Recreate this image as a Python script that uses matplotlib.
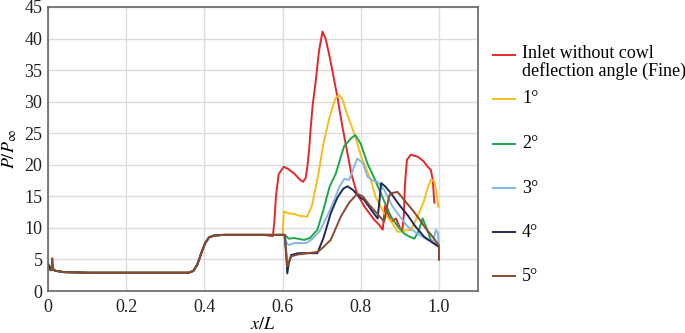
import matplotlib
matplotlib.use('Agg')
import matplotlib.pyplot as plt
from matplotlib.lines import Line2D

plt.rcParams['font.family'] = ['Liberation Serif', 'DejaVu Serif']
plt.rcParams['mathtext.fontset'] = 'stix'

# common first part (0 .. 0.6)
front_x = [0.0, 0.006, 0.02, 0.04, 0.1, 0.2, 0.3, 0.36, 0.372, 0.382,
           0.392, 0.402, 0.412, 0.425, 0.45, 0.5, 0.55]
front_y = [4.3, 3.6, 3.2, 3.0, 2.9, 2.9, 2.9, 2.9, 3.2, 4.2,
           6.0, 7.6, 8.5, 8.8, 8.9, 8.9, 8.9]

# red: inlet without cowl deflection
red_x = front_x + [0.575, 0.579, 0.583, 0.59, 0.603, 0.615, 0.63, 0.645, 0.652, 0.659,
                   0.664, 0.668, 0.672, 0.677, 0.685, 0.693, 0.702, 0.71, 0.719, 0.727,
                   0.74, 0.753, 0.766, 0.776, 0.79, 0.809, 0.834, 0.847, 0.856, 0.862,
                   0.868, 0.878, 0.89, 0.9, 0.906, 0.91, 0.913, 0.918, 0.928, 0.945,
                   0.96, 0.971, 0.979, 0.984, 0.988]
red_y = front_y + [8.7, 11.0, 15.0, 18.5, 19.7, 19.3, 18.6, 17.6, 17.3, 17.9,
                   20.0, 22.5, 26.0, 29.5, 33.4, 38.0, 41.1, 40.0, 37.5, 35.0,
                   30.8, 26.0, 21.8, 18.5, 15.5, 13.4, 11.3, 10.5, 9.7, 13.5,
                   12.5, 11.0, 11.5, 10.0, 9.5, 12.0, 17.0, 20.8, 21.6, 21.3,
                   20.6, 19.7, 19.2, 17.6, 14.0]

# yellow: 1 deg
y1_x = front_x + [0.6, 0.603, 0.615, 0.63, 0.645, 0.663, 0.675, 0.69, 0.705, 0.72,
                  0.735, 0.744, 0.752, 0.765, 0.783, 0.8, 0.826, 0.838, 0.86, 0.878,
                  0.894, 0.903, 0.915, 0.928, 0.945, 0.96, 0.972, 0.979, 0.988, 0.994,
                  0.998]
y1_y = front_y + [8.9, 12.6, 12.3, 12.2, 11.9, 11.8, 13.5, 18.0, 23.5, 27.5,
                  30.5, 31.1, 30.5, 28.0, 25.0, 21.5, 17.5, 14.9, 12.3, 11.0,
                  9.4, 9.4, 9.6, 9.7, 11.8, 14.0, 16.5, 17.6, 17.4, 15.5,
                  13.4]

# green: 2 deg
y2_x = front_x + [0.605, 0.611, 0.616, 0.63, 0.655, 0.67, 0.689, 0.705, 0.72, 0.736,
                  0.757, 0.775, 0.786, 0.8, 0.817, 0.835, 0.851, 0.865, 0.877, 0.895,
                  0.911, 0.925, 0.937, 0.948, 0.958, 0.968, 0.979, 0.99, 1.0, 1.0]
y2_y = front_y + [8.9, 8.6, 8.3, 8.4, 8.1, 8.4, 9.7, 13.0, 16.5, 18.6,
                  22.9, 24.2, 24.7, 23.3, 20.2, 17.8, 15.5, 13.5, 11.8, 10.2,
                  9.1, 8.6, 8.3, 9.5, 11.5, 10.0, 8.1, 7.5, 7.0, 5.2]

# light blue: 3 deg
y3_x = front_x + [0.605, 0.611, 0.616, 0.63, 0.66, 0.675, 0.695, 0.715, 0.732, 0.745,
                  0.758, 0.77, 0.78, 0.791, 0.805, 0.817, 0.83, 0.843, 0.86, 0.88,
                  0.9, 0.92, 0.94, 0.955, 0.971, 0.985, 0.992, 0.997, 1.0, 1.0]
y3_y = front_y + [8.9, 7.5, 7.3, 7.6, 7.6, 8.2, 9.5, 12.0, 14.4, 16.5,
                  17.8, 17.6, 19.2, 21.0, 20.3, 18.1, 17.5, 17.3, 16.0, 13.5,
                  11.8, 10.2, 9.3, 8.7, 8.1, 7.8, 9.7, 9.2, 7.0, 5.5]

# navy: 4 deg
y4_x = front_x + [0.605, 0.609, 0.612, 0.616, 0.622, 0.64, 0.665, 0.689, 0.705, 0.723,
                  0.74, 0.755, 0.766, 0.78, 0.795, 0.809, 0.825, 0.843, 0.848, 0.852,
                  0.862, 0.877, 0.9, 0.92, 0.94, 0.962, 0.985, 1.0, 1.0]
y4_y = front_y + [8.9, 6.0, 2.8, 4.5, 5.7, 6.0, 6.0, 6.0, 8.5, 12.3,
                  14.8, 16.2, 16.6, 16.0, 15.0, 14.4, 13.0, 11.5, 14.5, 17.1,
                  16.6, 15.5, 13.5, 12.0, 10.2, 8.6, 7.6, 7.0, 5.0]

# brown: 5 deg
y5_front_y = [3.5, 3.3, 3.2, 3.0, 2.9, 2.9, 2.9, 2.9, 3.2, 4.2,
              6.0, 7.6, 8.5, 8.8, 8.9, 8.9, 8.9]
y5_x = [0.0, 0.006, 0.009, 0.011, 0.014] + front_x[2:] + [
    0.605, 0.609, 0.612, 0.616, 0.622, 0.64, 0.665, 0.69, 0.705, 0.723,
    0.749, 0.77, 0.791, 0.805, 0.82, 0.834, 0.86, 0.866, 0.872, 0.877,
    0.894, 0.91, 0.93, 0.945, 0.965, 0.985, 1.0, 1.0]
y5_y = [3.5, 3.3, 3.3, 5.2, 3.4] + y5_front_y[2:] + [
    8.9, 6.5, 3.9, 4.5, 5.5, 5.8, 6.0, 6.2, 7.0, 8.1,
    11.8, 14.0, 15.4, 15.0, 13.8, 12.8, 11.0, 13.0, 15.0, 15.5,
    15.7, 14.5, 13.0, 11.8, 10.0, 8.5, 7.2, 5.0]

labels = ['Inlet without cowl\ndeflection angle (Fine)', '1°', '2°', '3°', '4°', '5°']
colors = ['#e8262a', '#f6bd1c', '#1ea64a', '#86b6e3', '#1f2857', '#8a4b30']
series = [(red_x, red_y), (y1_x, y1_y), (y2_x, y2_y), (y3_x, y3_y), (y4_x, y4_y), (y5_x, y5_y)]

fig = plt.figure(figsize=(6.85, 3.33), dpi=100)
ax = fig.add_axes([0.070, 0.126, 0.628, 0.853])

for (xs, ys), c in zip(series, colors):
    ax.plot(xs, ys, color=c, lw=1.4)

ax.set_xlim(0, 1.1)
ax.set_ylim(0, 45)
ax.set_xticks([0, 0.2, 0.4, 0.6, 0.8, 1.0])
ax.set_xticklabels(['0', '0.2', '0.4', '0.6', '0.8', '1.0'])
ax.set_yticks(range(0, 46, 5))
ax.grid(True, color='#dcdcdc', lw=1.0)
ax.set_axisbelow(True)
for s in ax.spines.values():
    s.set_color('#666666')
    s.set_linewidth(1.2)
ax.tick_params(length=0, labelsize=13, colors='#222222')
ax.tick_params(axis='x', pad=6)
ax.tick_params(axis='y', pad=4)
ax.set_xlabel(r'$x/L$', fontsize=13, labelpad=0)
ax.set_ylabel(r'$P/P_\infty$', fontsize=13, labelpad=4)

# legend drawn at the right side
leg_y = [0.835, 0.703, 0.568, 0.435, 0.303, 0.171]
for lab, c, yy in zip(labels, colors, leg_y):
    fig.add_artist(Line2D([0.719, 0.752], [yy, yy], color=c, lw=1.4, transform=fig.transFigure))
    if '\n' in lab:
        fig.text(0.762, yy + 0.03, lab, fontsize=13, va='top', ha='left', linespacing=1.0)
    else:
        fig.text(0.762, yy, lab, fontsize=13, va='center', ha='left')

fig.savefig('out.png', dpi=100)
